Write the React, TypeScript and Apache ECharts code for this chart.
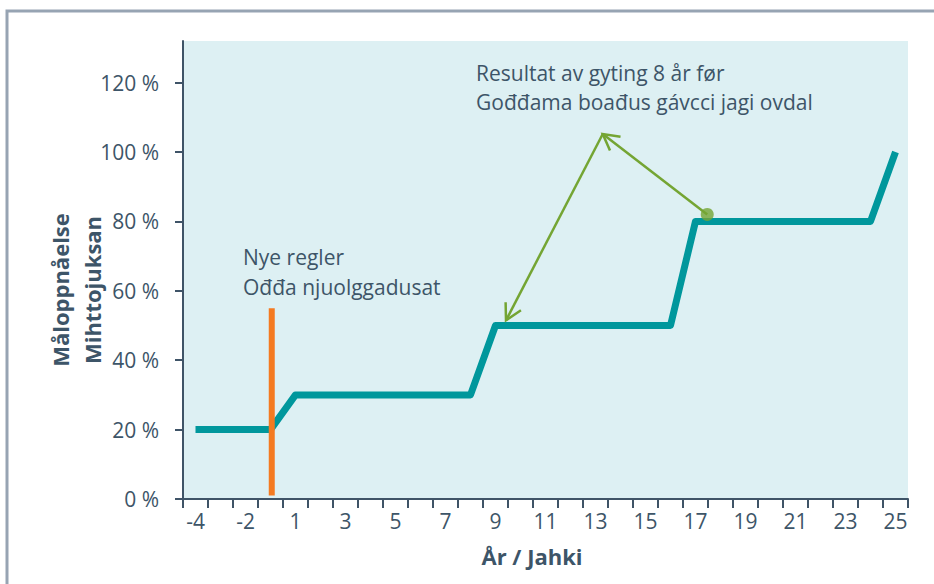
import React, { useEffect, useRef } from "react";
import * as echarts from "echarts";

// Years (no year 0)
const categories = [
  "-4", "-3", "-2", "-1",
  "1", "2", "3", "4", "5", "6", "7", "8", "9", "10", "11", "12",
  "13", "14", "15", "16", "17", "18", "19", "20", "21", "22", "23", "24", "25",
];
// Måloppnåelse (%)
const goalValues = [
  20, 20, 20, 20,
  30, 30, 30, 30, 30, 30, 30, 30,
  50, 50, 50, 50, 50, 50, 50, 50,
  80, 80, 80, 80, 80, 80, 80, 80,
  100,
];
const yTickValues = [0, 20, 40, 60, 80, 100, 120];

// Annotations in (category index, %) coordinates
const ruleLine = [
  [3.05, 1],
  [3.05, 55],
];
// each: [xFrom, yFrom, xTo, yTo] — arrowhead at "to"
const arrowSegments = [
  [20.47, 82, 16.29, 105.2],
  [16.29, 105.2, 12.42, 51.5],
];
const markerPoint = [[20.47, 82]];

const ruleText = ["Nye regler", "Ođđa njuolggadusat"];
const arrowText = ["Resultat av gyting 8 år før", "Gođđama boađus gávcci jagi ovdal"];
const yAxisTitle = ["Måloppnåelse", "Mihttojuksan"];
const xAxisTitle = "År / Jahki";

const TEXT = "#3d5568";
const AXIS = "#3f5467";
const TEAL = "#00979c";
const ORANGE = "#f47a20";
const GREEN = "#74a533";
const FONT = "Open Sans";
const FS = 21;

export default function App() {
  const ref = useRef<HTMLDivElement>(null);

  useEffect(() => {
    if (!ref.current) return;
    const chart = echarts.init(ref.current, undefined, { renderer: "svg" });

    const txt = (text: string, x: number, y: number, extra: any = {}) => ({
      type: "text",
      x,
      y,
      z: 100,
      style: {
        text,
        fill: TEXT,
        fontFamily: FONT,
        fontSize: FS,
        textVerticalAlign: "middle",
        ...extra,
      },
    });

    chart.setOption({
      animation: false,
      grid: {
        left: 183,
        top: 41,
        right: 26,
        bottom: 85,
        show: true,
        backgroundColor: "#ddf0f3",
        borderWidth: 0,
      },
      xAxis: [
        {
          type: "category",
          data: categories,
          boundaryGap: true,
          axisLine: { show: true, onZero: false, lineStyle: { color: AXIS, width: 2 } },
          axisTick: {
            show: true,
            interval: 0,
            alignWithLabel: false,
            length: 9,
            lineStyle: { color: AXIS, width: 2 },
          },
          axisLabel: {
            interval: 1,
            margin: 11,
            color: TEXT,
            fontFamily: FONT,
            fontSize: FS,
          },
          splitLine: { show: false },
        },
        {
          type: "value",
          min: -0.5,
          max: 28.5,
          show: false,
        },
      ],
      yAxis: {
        type: "value",
        min: 0,
        max: 132,
        axisLine: { show: true, onZero: false, lineStyle: { color: AXIS, width: 2 } },
        axisTick: {
          show: true,
          length: 8,
          customValues: yTickValues,
          lineStyle: { color: AXIS, width: 2 },
        },
        axisLabel: {
          customValues: yTickValues,
          margin: 24,
          color: TEXT,
          fontFamily: FONT,
          fontSize: FS,
          formatter: (v: number) => `${v} %`,
        },
        splitLine: { show: false },
      },
      series: [
        {
          type: "line",
          data: goalValues,
          symbol: "none",
          lineStyle: { color: TEAL, width: 7, join: "round", cap: "butt" },
          z: 2,
        },
        {
          type: "line",
          xAxisIndex: 1,
          data: ruleLine,
          symbol: "none",
          lineStyle: { color: ORANGE, width: 6, cap: "butt" },
          z: 4,
        },
        {
          type: "custom",
          xAxisIndex: 1,
          data: arrowSegments,
          z: 5,
          renderItem: (_p: any, api: any) => {
            const a = api.coord([api.value(0), api.value(1)]);
            const b = api.coord([api.value(2), api.value(3)]);
            const ang = Math.atan2(a[1] - b[1], a[0] - b[0]);
            const L = 18;
            const w = 0.5;
            const h1 = [b[0] + L * Math.cos(ang + w), b[1] + L * Math.sin(ang + w)];
            const h2 = [b[0] + L * Math.cos(ang - w), b[1] + L * Math.sin(ang - w)];
            return {
              type: "group",
              children: [
                {
                  type: "line",
                  shape: { x1: a[0], y1: a[1], x2: b[0], y2: b[1] },
                  style: { stroke: GREEN, lineWidth: 2.5 },
                },
                {
                  type: "polyline",
                  shape: { points: [h1, b, h2] },
                  style: { stroke: GREEN, lineWidth: 2.5, fill: "none" },
                },
              ],
            };
          },
        },
        {
          type: "scatter",
          xAxisIndex: 1,
          data: markerPoint,
          symbol: "circle",
          symbolSize: 13,
          itemStyle: { color: GREEN },
          z: 6,
        },
      ],
      graphic: [
        {
          type: "rect",
          shape: { x: 7, y: 11, width: 1200, height: 900 },
          style: { fill: "none", stroke: "#97a4b3", lineWidth: 3 },
          z: 0,
        },
        txt(arrowText[0], 476, 73),
        txt(arrowText[1], 476, 102),
        txt(ruleText[0], 243, 257),
        txt(ruleText[1], 243, 287),
        {
          type: "text",
          x: 60,
          y: 290,
          rotation: Math.PI / 2,
          z: 100,
          style: {
            text: yAxisTitle[0],
            fill: TEXT,
            fontFamily: FONT,
            fontWeight: "bold",
            fontSize: 22,
            textAlign: "center",
            textVerticalAlign: "middle",
          },
        },
        {
          type: "text",
          x: 92,
          y: 290,
          rotation: Math.PI / 2,
          z: 100,
          style: {
            text: yAxisTitle[1],
            fill: TEXT,
            fontFamily: FONT,
            fontWeight: "bold",
            fontSize: 22,
            textAlign: "center",
            textVerticalAlign: "middle",
          },
        },
        {
          type: "text",
          x: 532,
          y: 556,
          z: 100,
          style: {
            text: xAxisTitle,
            fill: TEXT,
            fontFamily: FONT,
            fontWeight: "bold",
            fontSize: 22,
            textAlign: "center",
            textVerticalAlign: "middle",
          },
        },
      ],
    });

    return () => chart.dispose();
  }, []);

  return (
    <div
      ref={ref}
      style={{ position: "fixed", left: 0, top: 0, width: 934, height: 584, background: "#ffffff" }}
    />
  );
}
